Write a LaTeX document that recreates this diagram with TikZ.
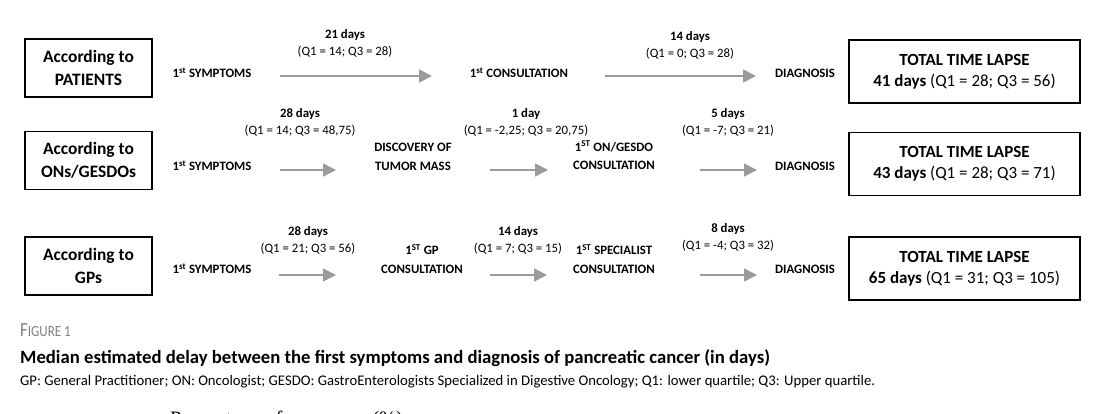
\documentclass[tikz,border=0pt]{standalone}
\usepackage{fontspec}
\setmainfont{Carlito}
\newfontfamily\capfont[FakeStretch=0.84]{Carlito}
\newfontfamily\cutfont{Liberation Serif}
\usetikzlibrary{arrows.meta}
\definecolor{arrowgray}{HTML}{9B9B9B}
\definecolor{figgray}{HTML}{7F7F7F}

\begin{document}
\begin{tikzpicture}[x=1pt,y=-1pt,
  sidebox/.style={draw,line width=1.4pt,align=center,inner sep=0pt,
    minimum width=127pt,minimum height=58pt,
    font=\bfseries\fontsize{17.4}{23}\selectfont},
  totalbox/.style={draw,line width=1.4pt,align=center,inner sep=0pt,
    minimum width=231pt,minimum height=63pt,
    font=\fontsize{17}{21}\selectfont},
  stage/.style={align=center,inner sep=0pt,font=\bfseries\fontsize{12.8}{18.5}\selectfont},
  delay/.style={align=center,inner sep=0pt,font=\fontsize{12.8}{17}\selectfont},
  gap/.style={draw=arrowgray,line width=1.6pt,-{Triangle[length=13pt,width=13pt]}}]
\useasboundingbox (0,0) rectangle (1100,414);
\clip (0,0) rectangle (1100,414);

% patients
\node[sidebox] (patbox) at (88.5,68) {According to\\PATIENTS};
\node[stage] (patsym) at (212,73) {1\textsuperscript{st} SYMPTOMS};
\node[stage] (patcons) at (519,73) {1\textsuperscript{st} CONSULTATION};
\node[stage] (patdiag) at (805,73) {DIAGNOSIS};
\node[delay] (patd1) at (345,43.5) {\textbf{21 days}\\(Q1 = 14; Q3 = 28)};
\node[delay] (patd2) at (690,45) {\textbf{14 days}\\(Q1 = 0; Q3 = 28)};
\node[totalbox] (pattot) at (964.5,71.5) {\textbf{TOTAL TIME LAPSE}\\\textbf{41 days} (Q1 = 28; Q3 = 56)};
\coordinate (pata) at (280,76);
\coordinate (patb) at (432,76);
\coordinate (patc) at (605,76);
\coordinate (patd) at (756,76);
\draw[gap] (pata) -- (patb);
\draw[gap] (patc) -- (patd);

% oncologists
\node[sidebox] (onbox) at (88.5,160.5) {According to\\ONs/GESDOs};
\node[stage] (onsym) at (212,166) {1\textsuperscript{st} SYMPTOMS};
\node[stage] (ontum) at (413,157) {DISCOVERY OF\\TUMOR MASS};
\node[stage] (oncons) at (614,155.5) {1\textsuperscript{ST} ON/GESDO\\CONSULTATION};
\node[stage] (ondiag) at (805,166) {DIAGNOSIS};
\node[delay] (ond1) at (300,122) {\textbf{28 days}\\(Q1 = 14; Q3 = 48,75)};
\node[delay] (ond2) at (526,122) {\textbf{1 day}\\(Q1 = -2,25; Q3 = 20,75)};
\node[delay] (ond3) at (728,122) {\textbf{5 days}\\(Q1 = -7; Q3 = 21)};
\node[totalbox] (ontot) at (964.5,164) {\textbf{TOTAL TIME LAPSE}\\\textbf{43 days} (Q1 = 28; Q3 = 71)};
\coordinate (ona) at (280,170);
\coordinate (onb) at (336,170);
\coordinate (onc) at (490,170);
\coordinate (ond) at (548,170);
\coordinate (one) at (700,170);
\coordinate (onf) at (757,170);
\draw[gap] (ona) -- (onb);
\draw[gap] (onc) -- (ond);
\draw[gap] (one) -- (onf);

% general practitioners
\node[sidebox] (gpbox) at (88.5,266) {According to\\GPs};
\node[stage] (gpsym) at (212,269) {1\textsuperscript{st} SYMPTOMS};
\node[stage] (gpcons) at (422,259) {1\textsuperscript{ST} GP\\CONSULTATION};
\node[stage] (gpspec) at (614,259) {1\textsuperscript{ST} SPECIALIST\\CONSULTATION};
\node[stage] (gpdiag) at (805,269) {DIAGNOSIS};
\node[delay] (gpd1) at (308,240.5) {\textbf{28 days}\\(Q1 = 21; Q3 = 56)};
\node[delay] (gpd2) at (518,240.5) {\textbf{14 days}\\(Q1 = 7; Q3 = 15)};
\node[delay] (gpd3) at (728,237.5) {\textbf{8 days}\\(Q1 = -4; Q3 = 32)};
\node[totalbox] (gptot) at (964.5,268.5) {\textbf{TOTAL TIME LAPSE}\\\textbf{65 days} (Q1 = 31; Q3 = 105)};
\coordinate (gpa) at (279,275);
\coordinate (gpb) at (336,275);
\coordinate (gpc) at (490,275);
\coordinate (gpd) at (547,275);
\coordinate (gpe) at (700,275);
\coordinate (gpf) at (757,275);
\draw[gap] (gpa) -- (gpb);
\draw[gap] (gpc) -- (gpd);
\draw[gap] (gpe) -- (gpf);

% caption
\node[anchor=base west,inner sep=0pt,text=figgray,font=\capfont] (figlabel) at (20,336.5)
  {\fontsize{20}{20}\selectfont F\fontsize{15.5}{20}\selectfont IGURE 1};
\node[anchor=base west,inner sep=0pt,font=\bfseries\fontsize{18.7}{20}\selectfont] (figtitle) at (20,363)
  {Median estimated delay between the first symptoms and diagnosis of pancreatic cancer (in days)};
\node[anchor=base west,inner sep=0pt,font=\fontsize{14.7}{16}\selectfont] (fignote) at (20,385.5)
  {GP: General Practitioner; ON: Oncologist; GESDO: GastroEnterologists Specialized in Digestive Oncology; Q1: lower quartile; Q3: Upper quartile.};
\node[anchor=base west,inner sep=0pt,font=\cutfont\fontsize{20.5}{20}\selectfont] (nextaxis) at (170,425)
  {Percentage of responses (\%)};
\end{tikzpicture}
\end{document}
